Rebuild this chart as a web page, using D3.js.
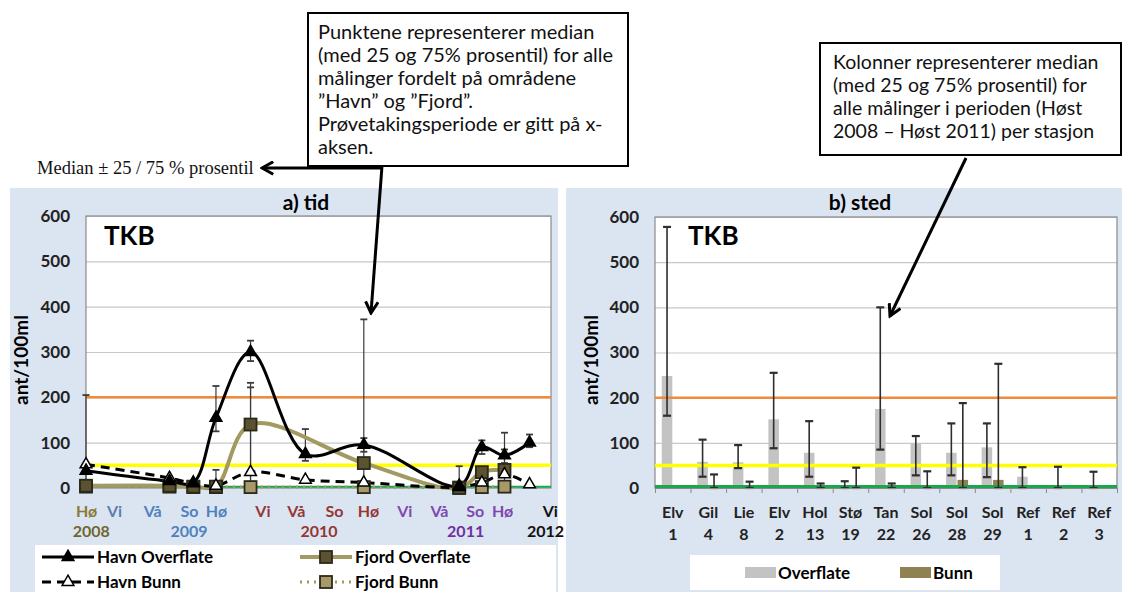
<!DOCTYPE html>
<html><head><meta charset="utf-8">
<script src="https://cdn.jsdelivr.net/npm/d3@7"></script>
<style>body{margin:0;background:#fff}svg{display:block}</style>
</head><body><svg id="c" width="1122" height="592"></svg>
<script>
// ---------- data: panel a) tid ----------
const sampleMonths = [0, 7.0, 9.0, 10.9, 13.8, 18.4, 23.3, 31.3, 33.2, 35.1, 37.2];
const havnOverflate   = [38, 15, 12, 155, 300, 75, 95, 5, 90, 72, 100];
const havnOverflateLo = [null, null, null, 125, 280, 60, 80, 0, 75, 55, 90];
const havnOverflateHi = [null, null, null, 225, 325, 130, 110, 48, 105, 85, 118];
const havnBunn   = [52, 22, 10, 5, 35, 18, 12, 2, 12, 30, 8];
const havnBunnLo = [0, null, null, null, 0, null, null, null, null, null, null];
const havnBunnHi = [205, null, null, null, 222, null, null, null, null, null, null];
const fjordOverflate   = [5, 5, 3, 3, 140, null, 55, 0, 35, 40, null];
const fjordOverflateLo = [null, null, null, 0, 0, null, 0, null, null, 0, null];
const fjordOverflateHi = [null, null, null, 40, 232, null, 372, null, null, 122, null];
const fjordBunn = [3, 3, 2, 2, 2, null, 2, 1, 2, 3, null];
const seasonLabels = ["Hø","Vi","Vå","So","Hø","Vi","Vå","So","Hø","Vi","Vå","So","Hø","Vi"];
const seasonPos    = [0, 2.35, 5.55, 8.64, 10.9, 14.8, 17.6, 20.8, 23.65, 26.7, 29.6, 32.6, 34.9, 38.9];
const seasonColors = ["#8a7a38","#5b7fae","#4f81bd","#4f81bd","#4f81bd","#953735","#953735","#953735","#953735","#7f48b0","#7f48b0","#7f48b0","#7f48b0","#111"];
const yearLabels = ["2008","2009","2010","2011","2012"];
const yearPos    = [0.4, 8.6, 19.5, 31.8, 38.5];
const yearColors = ["#6f6630","#4f81bd","#953735","#7030a0","#111"];
const yTicks = [0, 100, 200, 300, 400, 500, 600];
const limitLines = [{v:200,c:"#f28a3d",w:2.5},{v:50,c:"#ffff00",w:3.5}];

// ---------- data: panel b) sted ----------
const stations = ["Elv 1","Gil 4","Lie 8","Elv 2","Hol 13","Stø 19","Tan 22","Sol 26","Sol 28","Sol 29","Ref 1","Ref 2","Ref 3"];
const overflate   = [248, 58, 57, 152, 78, 2, 175, 98, 78, 90, 25, 0, 0];
const overflateLo = [160, 25, 44, 88, 25, 0, 85, 28, 28, 24, 0, 0, 0];
const overflateHi = [578, 107, 95, 255, 148, 15, 400, 115, 143, 143, 46, 47, 36];
const bunn   = [0, 2, 0, 0, 3, 2, 3, 2, 18, 18, 0, 0, 0];
const bunnLo = [null, 0, 0, null, 0, 0, 0, 0, 0, 0, null, null, null];
const bunnHi = [null, 30, 14, null, 10, 45, 10, 37, 188, 275, null, null, null];
const barSeries = ["Overflate","Bunn"];

const svg = d3.select("#c");
const FONT = "Lato, 'Open Sans', sans-serif";

// panel backgrounds
svg.append("rect").attr("x",10).attr("y",188).attr("width",548).attr("height",404).attr("fill","#dbe5f1");
svg.append("rect").attr("x",566).attr("y",188).attr("width",556).attr("height",404).attr("fill","#dbe5f1");

function frame(x0, x1, y) {
  const g = svg.append("g");
  g.append("rect").attr("x",x0).attr("y",y(600)).attr("width",x1-x0).attr("height",y(0)-y(600))
    .attr("fill","#fff");
  g.append("g").attr("transform",`translate(${x0},0)`)
    .call(d3.axisLeft(y).tickValues(yTicks.slice(1)).tickSize(-(x1-x0)).tickFormat(""))
    .call(a=>{a.select(".domain").remove();a.selectAll("line").attr("stroke","#c8c8c8").attr("stroke-width",1.2);});
  g.append("g").attr("transform",`translate(${x0-13},0)`)
    .call(d3.axisLeft(y).tickValues(yTicks).tickSize(0))
    .call(a=>{a.select(".domain").remove();a.selectAll("text").attr("font-family",FONT).attr("font-weight","bold").attr("font-size",17).attr("fill","#222");});
  g.append("rect").attr("x",x0).attr("y",y(600)).attr("width",x1-x0).attr("height",y(0)-y(600))
    .attr("fill","none").attr("stroke","#8a8a8a").attr("stroke-width",1.2);
  return g;
}
function limits(x0,x1,y,greenW){
  limitLines.forEach(l=>svg.append("line").attr("x1",x0).attr("x2",x1).attr("y1",y(l.v)).attr("y2",y(l.v)).attr("stroke",l.c).attr("stroke-width",l.w));
  svg.append("line").attr("x1",x0).attr("x2",x1).attr("y1",y(3)).attr("y2",y(3)).attr("stroke","#1aa64a").attr("stroke-width",greenW);
}
function errBar(x, lo, hi, y, cap, w, col){
  svg.append("line").attr("x1",x).attr("x2",x).attr("y1",y(lo)).attr("y2",y(hi)).attr("stroke",col).attr("stroke-width",w);
  [lo,hi].forEach(v=>svg.append("line").attr("x1",x-cap).attr("x2",x+cap).attr("y1",y(v)).attr("y2",y(v)).attr("stroke",col).attr("stroke-width",w+0.6));
}

// ================= panel a =================
const xA = d3.scaleLinear().domain([0,39]).range([86,551]);
const yA = d3.scaleLinear().domain([0,600]).range([488,216]);
frame(86,551,yA);
limits(86,551,yA,2);

svg.append("text").attr("x",306).attr("y",210).attr("text-anchor","middle").attr("font-family",FONT).attr("font-weight","bold").attr("font-size",21).text("a) tid");
svg.append("text").attr("x",104).attr("y",245).attr("font-family",FONT).attr("font-weight","bold").attr("font-size",26).text("TKB");
svg.append("text").attr("transform","translate(28,360) rotate(-90)").attr("text-anchor","middle").attr("font-family",FONT).attr("font-weight","bold").attr("font-size",19).text("ant/100ml");

// x axis labels (seasons + years)
svg.append("g").attr("transform",`translate(0,${yA(0)})`)
  .call(d3.axisBottom(xA).tickValues(seasonPos).tickSize(0).tickPadding(18).tickFormat((d,i)=>seasonLabels[i]))
  .call(a=>{a.select(".domain").remove();a.selectAll("text").attr("font-family",FONT).attr("font-weight","bold").attr("font-size",16).attr("fill",(d,i)=>seasonColors[i]);});
svg.append("g").attr("transform",`translate(0,${yA(0)})`)
  .call(d3.axisBottom(xA).tickValues(yearPos).tickSize(0).tickPadding(38).tickFormat((d,i)=>yearLabels[i]))
  .call(a=>{a.select(".domain").remove();a.selectAll("text").attr("font-family",FONT).attr("font-weight","bold").attr("font-size",16).attr("fill",(d,i)=>yearColors[i]);});

const seriesA = [
  {name:"Havn Overflate", v:havnOverflate, lo:havnOverflateLo, hi:havnOverflateHi, color:"#000", w:3, dash:null, marker:"triFill"},
  {name:"Fjord Overflate", v:fjordOverflate, lo:fjordOverflateLo, hi:fjordOverflateHi, color:"#a39a62", w:4, dash:null, marker:"sqDark"},
  {name:"Havn Bunn", v:havnBunn, lo:havnBunnLo, hi:havnBunnHi, color:"#000", w:3, dash:"9,6", marker:"triOpen"},
  {name:"Fjord Bunn", v:fjordBunn, lo:null, hi:null, color:"#a39a62", w:3, dash:"2,5", marker:"sqLight"}
];
seriesA.forEach(s=>{ if(!s.hi) return;
  s.hi.forEach((h,i)=>{ if(h==null) return; errBar(xA(sampleMonths[i]), s.lo[i]??s.v[i], h, yA, 3.5, 1.2, "#3a3a3a"); });
});
const line = d3.line().x(d=>xA(d.m)).y(d=>yA(d.v)).curve(d3.curveCatmullRom.alpha(0.5));
function drawMarker(g, kind, cx, cy){
  if(kind.startsWith("tri")){
    g.append("path").attr("d",d3.symbol(d3.symbolTriangle,60)()).attr("transform",`translate(${cx},${cy})`)
      .attr("fill",kind==="triFill"?"#000":"#fff").attr("stroke","#000").attr("stroke-width",1.5);
  } else {
    g.append("rect").attr("x",cx-6).attr("y",cy-6).attr("width",12).attr("height",12)
      .attr("fill",kind==="sqDark"?"#5a5230":"#a8996a").attr("stroke","#2a2a1a").attr("stroke-width",1.8);
  }
}
[3,1,2,0].forEach(k=>{
  const s = seriesA[k];
  const pts = sampleMonths.map((m,i)=>({m, v:s.v[i]})).filter(d=>d.v!=null);
  svg.append("path").datum(pts).attr("d",line).attr("fill","none").attr("stroke",s.color).attr("stroke-width",s.w)
    .attr("stroke-dasharray",s.dash);
});
[3,1,2,0].forEach(k=>{
  const s = seriesA[k];
  const g = svg.append("g");
  sampleMonths.forEach((m,i)=>{ if(s.v[i]==null) return; drawMarker(g, s.marker, xA(m), yA(s.v[i])); });
});

// legend a
svg.append("rect").attr("x",35).attr("y",545).attr("width",521).attr("height",47).attr("fill","#fff");
const legPos = [[42,557],[300,557],[42,582],[300,582]];
seriesA.forEach((s,i)=>{
  const [lx,ly] = legPos[i];
  svg.append("line").attr("x1",lx).attr("x2",lx+52).attr("y1",ly).attr("y2",ly).attr("stroke",s.color).attr("stroke-width",s.w).attr("stroke-dasharray",s.dash);
  drawMarker(svg.append("g"), s.marker, lx+26, ly);
  svg.append("text").attr("x",lx+55).attr("y",ly+6).attr("font-family",FONT).attr("font-weight","bold").attr("font-size",17).text(s.name);
});

// ================= panel b =================
const xB = d3.scaleBand().domain(stations).range([655,1117]);
const x1 = d3.scaleBand().domain(barSeries).range([xB.bandwidth()/2-11, xB.bandwidth()/2+11]).paddingInner(0.08);
const yB = d3.scaleLinear().domain([0,600]).range([488,217]);
frame(655,1117,yB);
svg.append("text").attr("x",860).attr("y",210).attr("text-anchor","middle").attr("font-family",FONT).attr("font-weight","bold").attr("font-size",21).text("b) sted");
svg.append("text").attr("x",688).attr("y",245).attr("font-family",FONT).attr("font-weight","bold").attr("font-size",26).text("TKB");
svg.append("text").attr("transform","translate(598,360) rotate(-90)").attr("text-anchor","middle").attr("font-family",FONT).attr("font-weight","bold").attr("font-size",19).text("ant/100ml");

const barColors = {Overflate:"#c3c3c3", Bunn:"#8f8250"};
const barData = [overflate, bunn];
barSeries.forEach((ser,k)=>{
  svg.append("g").selectAll("rect").data(stations).join("rect")
    .attr("x",d=>xB(d)+x1(ser)).attr("width",x1.bandwidth())
    .attr("y",(d,i)=>yB(barData[k][i])).attr("height",(d,i)=>yB(0)-yB(barData[k][i]))
    .attr("fill",barColors[ser]);
});
limits(655,1117,yB,3.5);
stations.forEach((st,i)=>{
  errBar(xB(st)+x1("Overflate")+x1.bandwidth()/2, overflateLo[i], overflateHi[i], yB, 4, 1.6, "#2e2e2e");
  if(bunnHi[i]!=null) errBar(xB(st)+x1("Bunn")+x1.bandwidth()/2, bunnLo[i], bunnHi[i], yB, 4, 1.6, "#2e2e2e");
});
const axB = svg.append("g").attr("transform",`translate(0,${yB(0)})`)
  .call(d3.axisBottom(xB).tickSize(0).tickFormat(""));
axB.select(".domain").attr("stroke","#8a8a8a");
stations.forEach(st=>{
  const [a,b] = st.split(" ");
  const cx = xB(st)+xB.bandwidth()/2;
  const t = svg.append("text").attr("text-anchor","middle").attr("font-family",FONT).attr("font-weight","bold").attr("font-size",16).attr("fill","#222");
  t.append("tspan").attr("x",cx).attr("y",518).text(a);
  t.append("tspan").attr("x",cx).attr("y",540).text(b);
});
svg.append("g").attr("transform",`translate(0,${yB(0)})`)
  .call(d3.axisBottom(d3.scaleLinear().domain([0,13]).range([655,1117])).ticks(13).tickSize(5).tickFormat(""))
  .call(a=>{a.select(".domain").remove();a.selectAll("line").attr("stroke","#8a8a8a");});

// legend b
svg.append("rect").attr("x",690).attr("y",555).attr("width",310).attr("height",35).attr("fill","#fff");
[["Overflate",745],["Bunn",900]].forEach(([n,lx])=>{
  svg.append("rect").attr("x",lx).attr("y",567).attr("width",31).attr("height",11).attr("fill",barColors[n]);
  svg.append("text").attr("x",lx+33).attr("y",579).attr("font-family",FONT).attr("font-weight","bold").attr("font-size",17).text(n);
});

// ================= annotations =================
const defs = svg.append("defs");
defs.append("marker").attr("id","arr").attr("viewBox","0 0 12 12").attr("refX",10).attr("refY",6)
  .attr("markerWidth",5).attr("markerHeight",5).attr("orient","auto")
  .append("path").attr("d","M1,1 L10,6 L1,11").attr("fill","none").attr("stroke","#000").attr("stroke-width",2.4);

const box1 = ["Punktene representerer median","(med 25 og 75% prosentil) for alle","målinger fordelt på områdene","”Havn” og ”Fjord”.","Prøvetakingsperiode er gitt på x-","aksen."];
const box2 = ["Kolonner representerer median","(med 25 og 75% prosentil) for","alle målinger i perioden (Høst","2008 – Høst 2011) per stasjon"];
svg.append("rect").attr("x",308).attr("y",13).attr("width",320).attr("height",153).attr("fill","#fff").attr("stroke","#000").attr("stroke-width",2);
box1.forEach((t,i)=>svg.append("text").attr("x",318).attr("y",39+i*23).attr("font-family","Lato, sans-serif").attr("font-size",20).attr("fill","#111").text(t));
svg.append("rect").attr("x",820).attr("y",43).attr("width",301).attr("height",112).attr("fill","#fff").attr("stroke","#000").attr("stroke-width",2);
box2.forEach((t,i)=>svg.append("text").attr("x",833).attr("y",69+i*23).attr("font-family","Lato, sans-serif").attr("font-size",19.5).attr("fill","#111").text(t));

svg.append("text").attr("x",37).attr("y",174).attr("font-family","'Liberation Serif', serif").attr("font-size",18.5).attr("fill","#111").text("Median ± 25 / 75 % prosentil");
svg.append("line").attr("x1",382).attr("x2",262).attr("y1",168).attr("y2",168).attr("stroke","#000").attr("stroke-width",3).attr("marker-end","url(#arr)");
svg.append("line").attr("x1",382).attr("x2",371).attr("y1",166).attr("y2",313).attr("stroke","#000").attr("stroke-width",3).attr("marker-end","url(#arr)");
svg.append("line").attr("x1",966).attr("x2",890).attr("y1",158).attr("y2",316).attr("stroke","#000").attr("stroke-width",3).attr("marker-end","url(#arr)");
</script></body></html>
